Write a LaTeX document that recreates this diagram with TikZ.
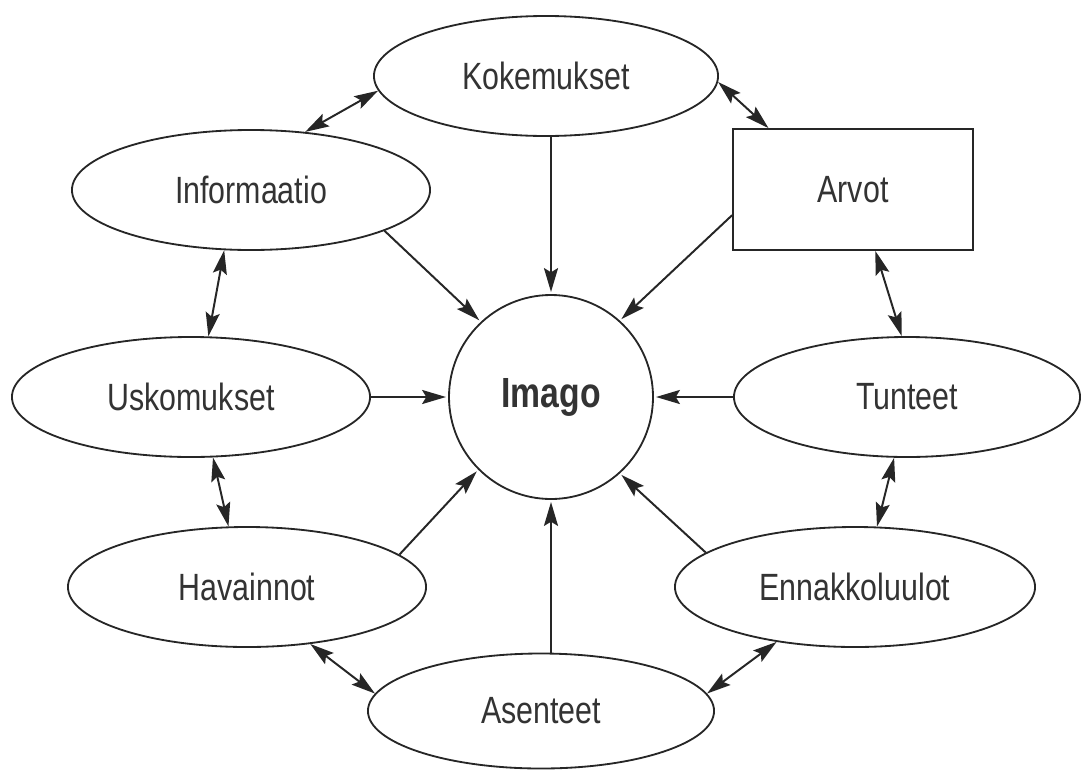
\documentclass[tikz,border=0pt]{standalone}
\usepackage{fontspec}
\setmainfont{Liberation Sans}[FakeStretch=0.8]
\usetikzlibrary{shapes.geometric,arrows.meta}
\begin{document}
\begin{tikzpicture}[x=0.025cm,y=-0.025cm,
  line width=1.3pt,
  every node/.style={font=\fontsize{27pt}{31pt}\selectfont, text=black!80},
  oval/.style={draw=black!85, ellipse, inner sep=0pt, minimum width=#1*0.05cm, minimum height=120*0.025cm},
  box/.style={draw=black!85, rectangle, inner sep=0pt, minimum width=240*0.025cm, minimum height=121*0.025cm},
  hub/.style={draw=black!85, circle, inner sep=0pt, minimum size=204*0.025cm},
  tip/.style={-{Stealth[length=17pt,width=10pt,inset=3pt]}, draw=black!85, line width=1.4pt, shorten >=1.5pt},
  both/.style={{Stealth[length=17pt,width=10pt,inset=3pt]}-{Stealth[length=17pt,width=10pt,inset=3pt]}, draw=black!85, line width=1.4pt}
]
\useasboundingbox (0,0) rectangle (1082,769);
\node[hub, font=\bfseries\fontsize{30pt}{34pt}\selectfont] (imago) at (551,397) {Imago};
\node[oval=172] (kok) at (546,76) {Kokemukset};
\node[oval=179] (inf) at (251,190) {Informaatio};
\node[box] (arv) at (853,189.5) {Arvot};
\node[oval=179] (usk) at (191,397) {Uskomukset};
\node[oval=173] (tun) at (907,397) {Tunteet};
\node[oval=179] (hav) at (247,587) {Havainnot};
\node[oval=180] (enn) at (855,587) {Ennakkoluulot};
\node[oval=173, minimum height=115*0.025cm] (ase) at (541,711) {Asenteet};

% arrows into Imago
\draw[tip] (kok.south -| imago.north) -- (imago.north);
\draw[tip] (inf.343.4) -- (imago.133.1);
\draw[tip] (arv.192) -- (imago.48.4);
\draw[tip] (usk.east) -- (imago.west);
\draw[tip] (tun.west) -- (imago.east);
\draw[tip] (hav.12.8) -- (imago.225.7);
\draw[tip] (enn.167.4) -- (imago.312);
\draw[tip] (ase.north -| imago.south) -- (imago.south);

% double arrows around the ring
\draw[both] (kok.185.7) -- (inf.47.9);
\draw[both] (kok.358) -- (arv.144.6);
\draw[both] (arv.290) -- (tun.95.8);
\draw[both] (inf.246.9) -- (usk.74.2);
\draw[both] (usk.290.5) -- (hav.107);
\draw[both] (tun.258.5) -- (enn.70.7);
\draw[both] (hav.318.3) -- (ase.174.3);
\draw[both] (enn.215.3) -- (ase.6.3);
\end{tikzpicture}
\end{document}
